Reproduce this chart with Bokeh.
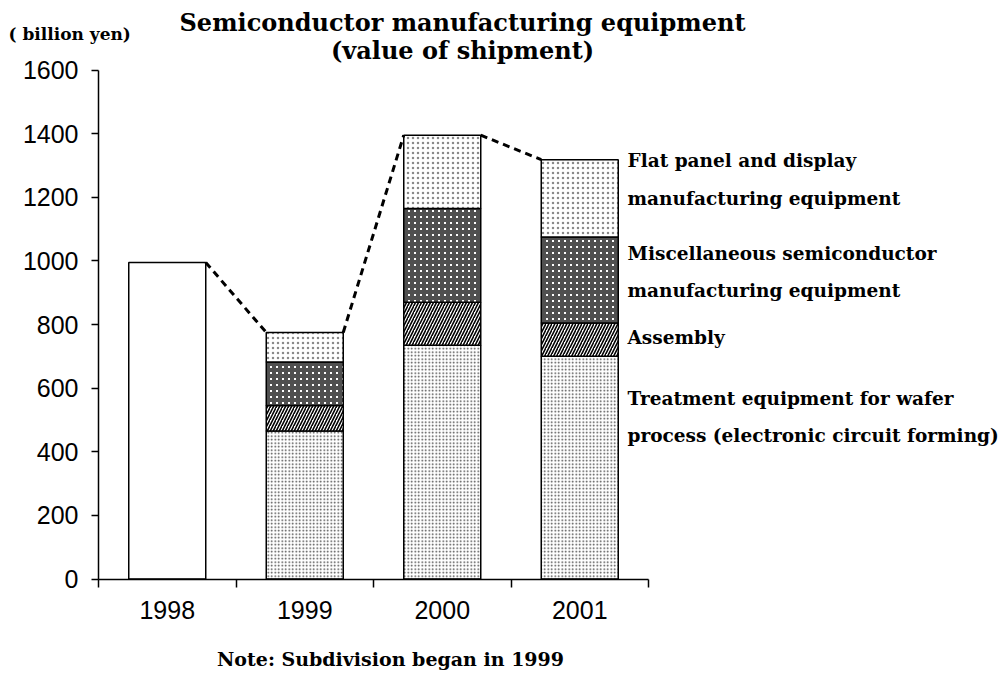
from bokeh.plotting import figure
from bokeh.models import Range1d, FixedTicker, Label, ColumnDataSource, LinearAxis
from bokeh.embed import file_html
from bokeh.resources import INLINE

# ---- data ----
years = ["1998", "1999", "2000", "2001"]
totals_1998 = [995]                       # 1998: not subdivided
treatment = [0, 465, 735, 700]            # Treatment equipment for wafer process
assembly = [0, 80, 135, 105]              # Assembly
misc = [0, 137, 295, 270]                 # Miscellaneous semiconductor mfg equipment
flat_panel = [0, 93, 230, 243]            # Flat panel and display mfg equipment
y_ticks = [0, 200, 400, 600, 800, 1000, 1200, 1400, 1600]

series_labels = [
    ["Flat panel and display", "manufacturing equipment"],
    ["Miscellaneous semiconductor", "manufacturing equipment"],
    ["Assembly"],
    ["Treatment equipment for wafer", "process (electronic circuit forming)"],
]

SERIF = "DejaVu Serif"
SANS = "Liberation Sans"

W, H = 1007, 680
ax_left_px, band_px = 98, 137.5      # y-axis position and category band width
zero_px, px_per_unit = 578.5, 509 / 1600

xs = [i + 0.5 for i in range(len(years))]
bar_w = 0.56

x_start = -ax_left_px / band_px
x_end = (W - ax_left_px) / band_px
y_end = zero_px / px_per_unit
y_start = -(H - zero_px) / px_per_unit

p = figure(width=W, height=H, output_backend="svg", toolbar_location=None,
           x_range=Range1d(x_start, x_end), y_range=Range1d(y_start, y_end),
           x_axis_location=None, y_axis_location=None,
           min_border=0, min_border_left=0, min_border_right=0,
           min_border_top=0, min_border_bottom=0)
p.outline_line_color = None
p.xgrid.visible = False
p.ygrid.visible = False

# stacked segments
bottoms = [0] * len(years)
seg_styles = [
    (treatment, dict(fill_color="white", hatch_pattern="dot", hatch_color="#444444",
                     hatch_scale=3.5, hatch_weight=1)),
    (assembly, dict(fill_color="white", hatch_pattern="right_diagonal_line",
                    hatch_color="black", hatch_scale=6, hatch_weight=1.6)),
    (misc, dict(fill_color="white", hatch_pattern="cross", hatch_color="#505050",
                hatch_scale=6, hatch_weight=4)),
    (flat_panel, dict(fill_color="white", hatch_pattern="dot", hatch_color="#8a8a8a",
                      hatch_scale=5, hatch_weight=1)),
]
for vals, style in seg_styles:
    tops = [b + v for b, v in zip(bottoms, vals)]
    idx = [i for i, v in enumerate(vals) if v > 0]
    src = ColumnDataSource(dict(x=[xs[i] for i in idx], bottom=[bottoms[i] for i in idx],
                                top=[tops[i] for i in idx]))
    p.vbar(x="x", bottom="bottom", top="top", width=bar_w, source=src,
           line_color="black", line_width=1.5, **style)
    bottoms = tops

# 1998 plain bar
p.vbar(x=[xs[0]], bottom=[0], top=totals_1998, width=bar_w, fill_color="white",
       line_color="black", line_width=1.5)

# dashed connectors between bar tops
totals = [totals_1998[0]] + bottoms[1:]
for i in range(len(years) - 1):
    p.line(x=[xs[i] + bar_w / 2, xs[i + 1] - bar_w / 2], y=[totals[i], totals[i + 1]],
           line_color="black", line_width=3, line_dash="7 5")

# axes (placed inside the full-canvas frame)
xa = LinearAxis(fixed_location=0, bounds=(0, len(years)))
xa.ticker = FixedTicker(ticks=xs, minor_ticks=list(range(len(years) + 1)))
xa.major_label_overrides = {x: y for x, y in zip(xs, years)}
xa.major_tick_out = 0
xa.major_tick_in = 0
xa.minor_tick_out = 8
xa.minor_tick_in = 0
xa.minor_tick_line_color = "black"
xa.minor_tick_line_width = 1.5
xa.axis_line_width = 1.5
xa.major_label_text_font = SANS
xa.major_label_text_font_size = "25px"
xa.major_label_text_color = "black"
xa.major_label_standoff = 14
p.add_layout(xa, "below")

ya = LinearAxis(fixed_location=0, bounds=(y_ticks[0], y_ticks[-1]))
ya.ticker = FixedTicker(ticks=y_ticks)
ya.minor_tick_line_color = None
ya.major_tick_out = 7
ya.major_tick_in = 0
ya.major_tick_line_width = 1.5
ya.axis_line_width = 1.5
ya.major_label_text_font = SANS
ya.major_label_text_font_size = "25px"
ya.major_label_text_color = "black"
ya.major_label_standoff = 13
p.add_layout(ya, "left")

# right-hand series labels
label_x = (627 - ax_left_px) / band_px
label_y = [[1316, 1196], [1023, 907], [759], [567, 451]]
for lines, ys in zip(series_labels, label_y):
    for t, yy in zip(lines, ys):
        p.add_layout(Label(x=label_x, y=yy, text=t, text_font=SERIF, text_font_size="18.5px",
                           text_font_style="bold", text_baseline="middle", text_align="left",
                           text_color="black"))

# title and notes
title_x = (462 - ax_left_px) / band_px
p.add_layout(Label(x=title_x, y=1748, text="Semiconductor manufacturing equipment",
                   text_font=SERIF, text_font_size="24px", text_font_style="bold",
                   text_align="center", text_baseline="middle", text_color="black"))
p.add_layout(Label(x=title_x, y=1660, text="(value of shipment)",
                   text_font=SERIF, text_font_size="24px", text_font_style="bold",
                   text_align="center", text_baseline="middle", text_color="black"))
p.add_layout(Label(x=(8 - ax_left_px) / band_px, y=1713, text="( billion yen)",
                   text_font=SERIF, text_font_size="17px", text_font_style="bold",
                   text_align="left", text_baseline="middle", text_color="black"))
p.add_layout(Label(x=(390 - ax_left_px) / band_px, y=-251,
                   text="Note: Subdivision began in 1999",
                   text_font=SERIF, text_font_size="19px", text_font_style="bold",
                   text_align="center", text_baseline="middle", text_color="black"))

open("out.html", "w").write(file_html(p, INLINE))
